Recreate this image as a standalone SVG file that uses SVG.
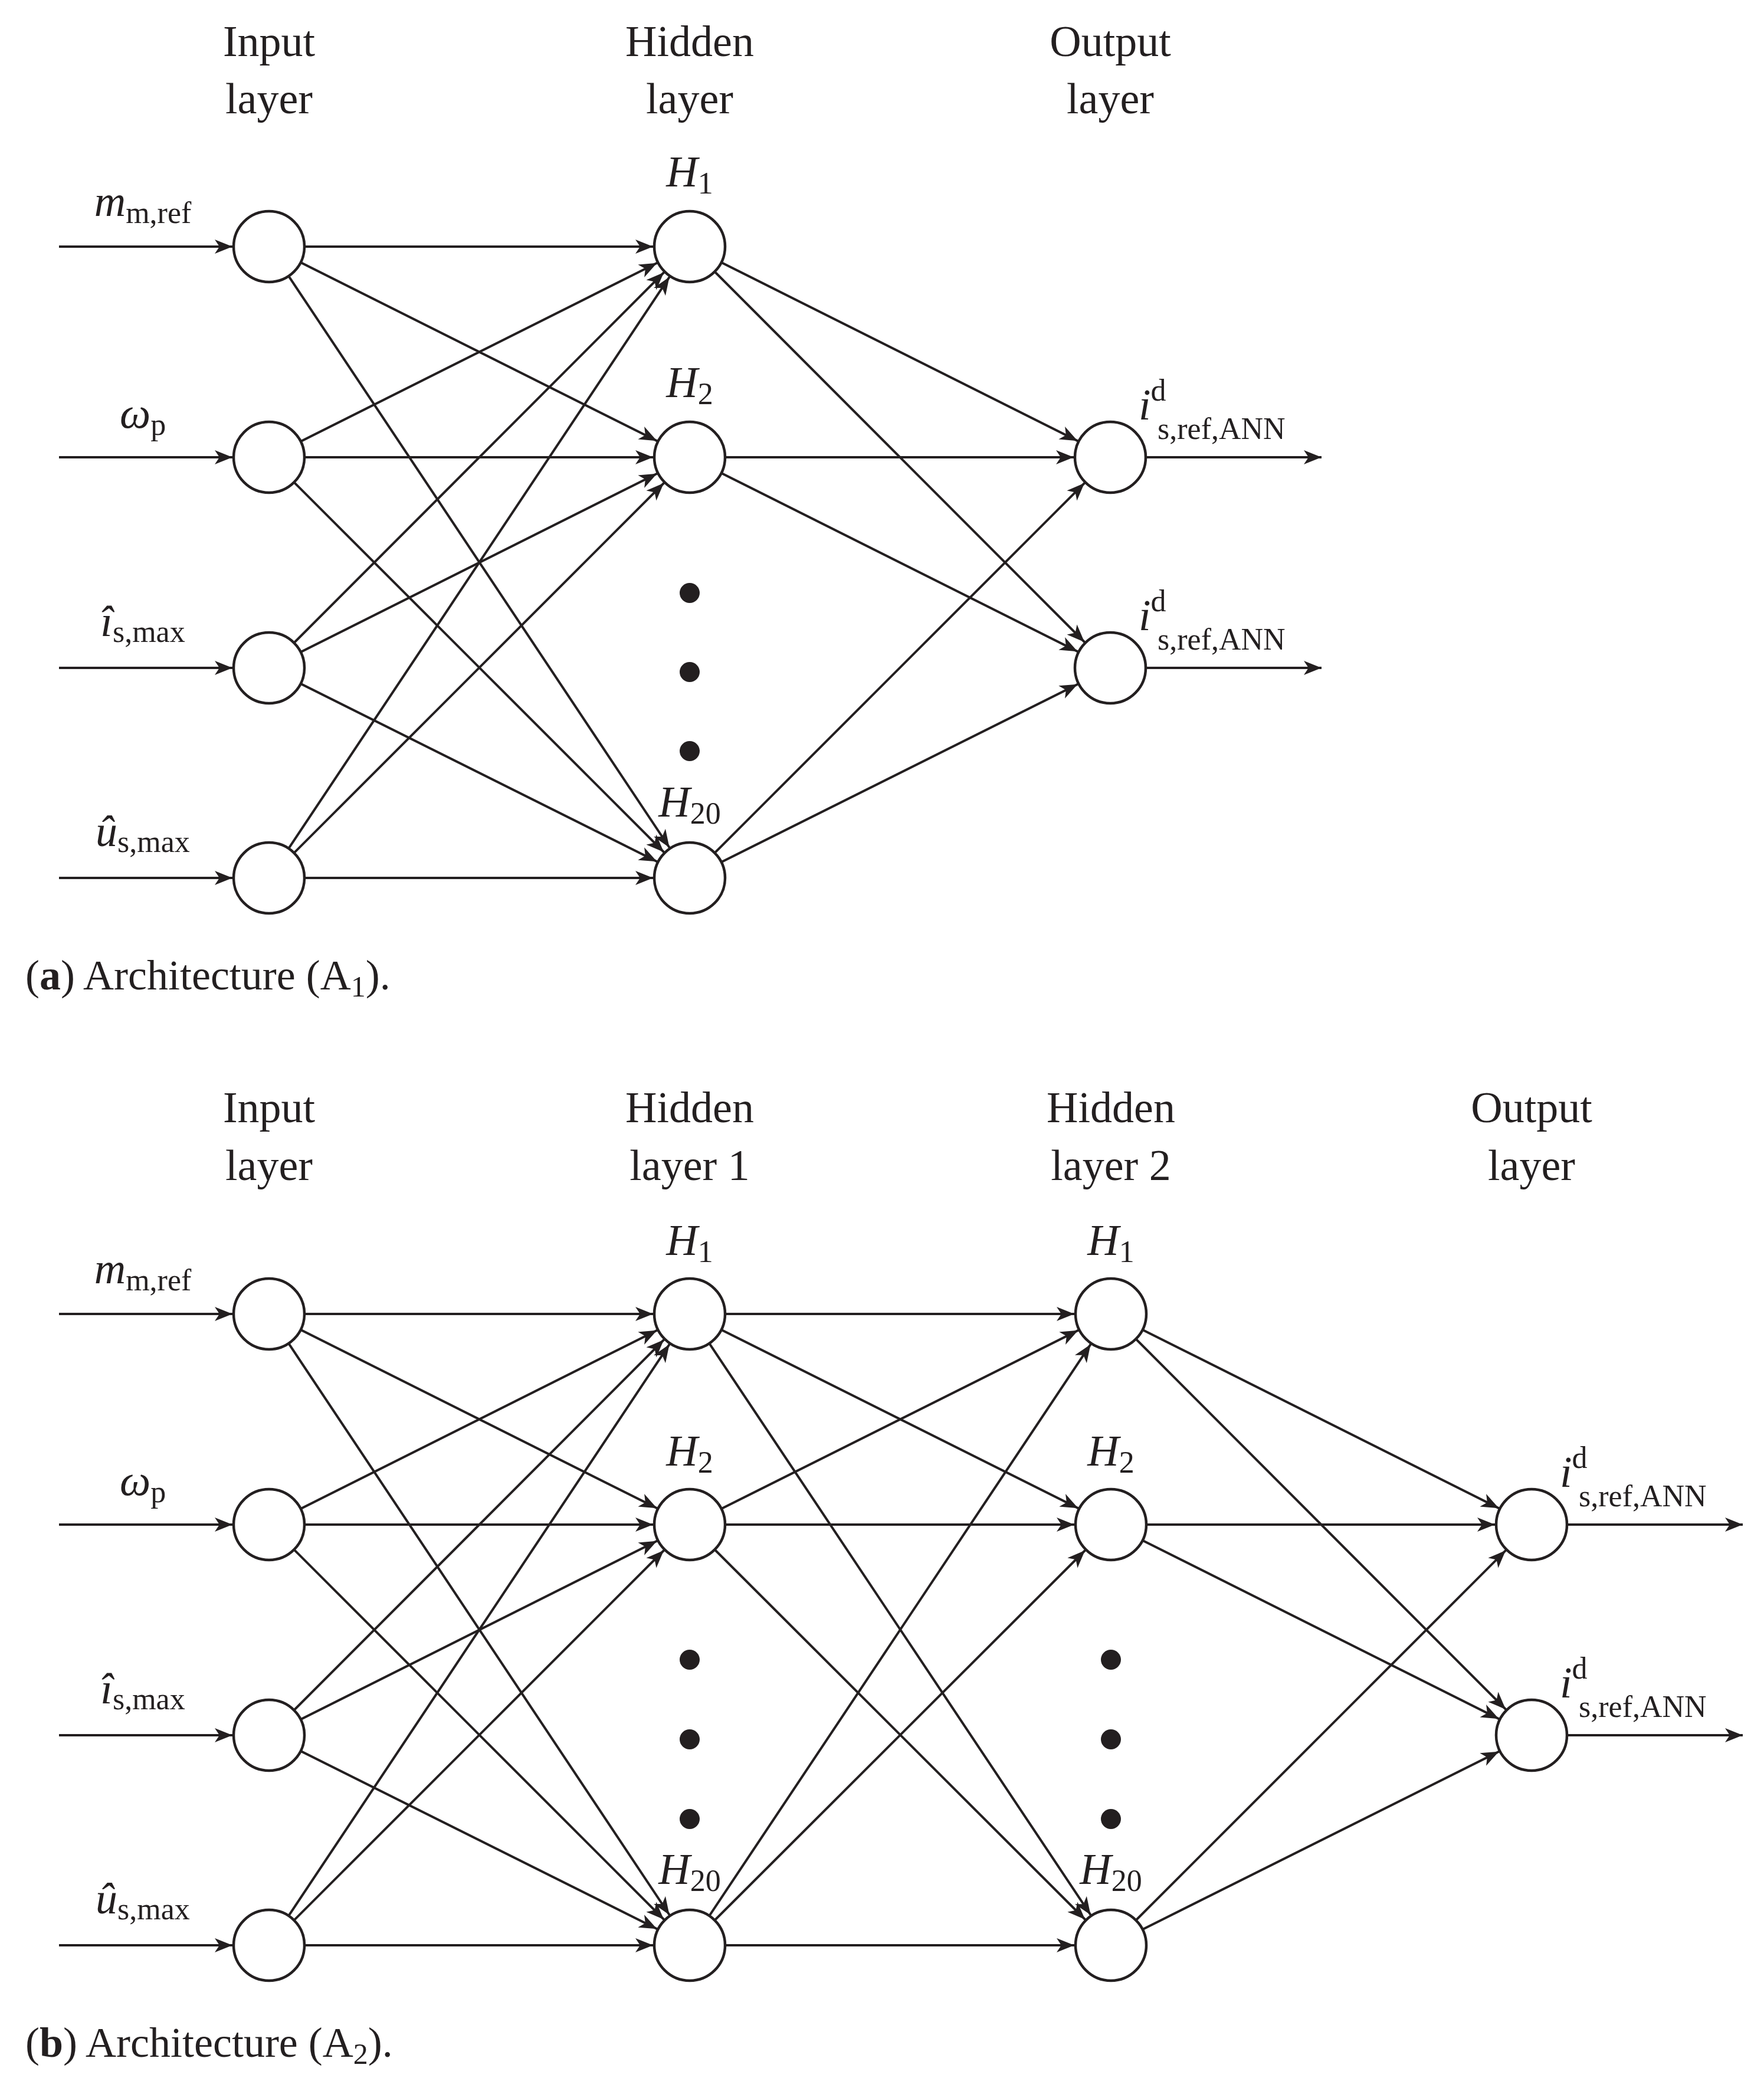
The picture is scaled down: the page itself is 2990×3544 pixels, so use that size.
<svg xmlns="http://www.w3.org/2000/svg" width="2990" height="3544" viewBox="0 0 2990 3544">
<style>
.e{stroke:#231f20;stroke-width:4;fill:none;marker-end:url(#ah)}
.f{stroke:#231f20;stroke-width:4;fill:none;marker-end:url(#ah0)}
.n{fill:#fff;stroke:#231f20;stroke-width:4.5}
.d{fill:#231f20}
text{font-family:"Liberation Serif",serif;fill:#231f20}
.t{font-size:74px;text-anchor:middle}
.m{font-size:74px;font-style:italic}
.s{font-size:52px;font-style:normal}
.c{font-size:72px}
</style>
<defs>
<marker id="ah" markerUnits="userSpaceOnUse" orient="auto" refX="62" refY="0" overflow="visible" markerWidth="40" markerHeight="40">
<path d="M0,0 L-30,-12 L-22,0 L-30,12 Z" fill="#231f20"/>
</marker>
<marker id="ah0" markerUnits="userSpaceOnUse" orient="auto" refX="0" refY="0" overflow="visible" markerWidth="40" markerHeight="40">
<path d="M0,0 L-30,-12 L-22,0 L-30,12 Z" fill="#231f20"/>
</marker>
</defs>
<rect width="2990" height="3544" fill="#fff"/>

<g id="connectors">
<!-- part a inputs -->
<line class="f" x1="100" y1="418" x2="394" y2="418"/>
<line class="f" x1="100" y1="775" x2="394" y2="775"/>
<line class="f" x1="100" y1="1132" x2="394" y2="1132"/>
<line class="f" x1="100" y1="1488" x2="394" y2="1488"/>
<!-- a: input->hidden -->
<line class="e" x1="456" y1="418" x2="1169" y2="418"/>
<line class="e" x1="456" y1="418" x2="1169" y2="775"/>
<line class="e" x1="456" y1="418" x2="1169" y2="1488"/>
<line class="e" x1="456" y1="775" x2="1169" y2="418"/>
<line class="e" x1="456" y1="775" x2="1169" y2="775"/>
<line class="e" x1="456" y1="775" x2="1169" y2="1488"/>
<line class="e" x1="456" y1="1132" x2="1169" y2="418"/>
<line class="e" x1="456" y1="1132" x2="1169" y2="775"/>
<line class="e" x1="456" y1="1132" x2="1169" y2="1488"/>
<line class="e" x1="456" y1="1488" x2="1169" y2="418"/>
<line class="e" x1="456" y1="1488" x2="1169" y2="775"/>
<line class="e" x1="456" y1="1488" x2="1169" y2="1488"/>
<!-- a: hidden->output -->
<line class="e" x1="1169" y1="418" x2="1882" y2="775"/>
<line class="e" x1="1169" y1="418" x2="1882" y2="1132"/>
<line class="e" x1="1169" y1="775" x2="1882" y2="775"/>
<line class="e" x1="1169" y1="775" x2="1882" y2="1132"/>
<line class="e" x1="1169" y1="1488" x2="1882" y2="775"/>
<line class="e" x1="1169" y1="1488" x2="1882" y2="1132"/>
<line class="f" x1="1944" y1="775" x2="2240" y2="775"/>
<line class="f" x1="1944" y1="1132" x2="2240" y2="1132"/>

<!-- part b inputs -->
<line class="f" x1="100" y1="2227" x2="394" y2="2227"/>
<line class="f" x1="100" y1="2584" x2="394" y2="2584"/>
<line class="f" x1="100" y1="2941" x2="394" y2="2941"/>
<line class="f" x1="100" y1="3297" x2="394" y2="3297"/>
<!-- b: input->H1 layer -->
<line class="e" x1="456" y1="2227" x2="1169" y2="2227"/>
<line class="e" x1="456" y1="2227" x2="1169" y2="2584"/>
<line class="e" x1="456" y1="2227" x2="1169" y2="3297"/>
<line class="e" x1="456" y1="2584" x2="1169" y2="2227"/>
<line class="e" x1="456" y1="2584" x2="1169" y2="2584"/>
<line class="e" x1="456" y1="2584" x2="1169" y2="3297"/>
<line class="e" x1="456" y1="2941" x2="1169" y2="2227"/>
<line class="e" x1="456" y1="2941" x2="1169" y2="2584"/>
<line class="e" x1="456" y1="2941" x2="1169" y2="3297"/>
<line class="e" x1="456" y1="3297" x2="1169" y2="2227"/>
<line class="e" x1="456" y1="3297" x2="1169" y2="2584"/>
<line class="e" x1="456" y1="3297" x2="1169" y2="3297"/>
<!-- b: layer1->layer2 -->
<line class="e" x1="1169" y1="2227" x2="1883" y2="2227"/>
<line class="e" x1="1169" y1="2227" x2="1883" y2="2584"/>
<line class="e" x1="1169" y1="2227" x2="1883" y2="3297"/>
<line class="e" x1="1169" y1="2584" x2="1883" y2="2227"/>
<line class="e" x1="1169" y1="2584" x2="1883" y2="2584"/>
<line class="e" x1="1169" y1="2584" x2="1883" y2="3297"/>
<line class="e" x1="1169" y1="3297" x2="1883" y2="2227"/>
<line class="e" x1="1169" y1="3297" x2="1883" y2="2584"/>
<line class="e" x1="1169" y1="3297" x2="1883" y2="3297"/>
<!-- b: layer2->output -->
<line class="e" x1="1883" y1="2227" x2="2596" y2="2584"/>
<line class="e" x1="1883" y1="2227" x2="2596" y2="2941"/>
<line class="e" x1="1883" y1="2584" x2="2596" y2="2584"/>
<line class="e" x1="1883" y1="2584" x2="2596" y2="2941"/>
<line class="e" x1="1883" y1="3297" x2="2596" y2="2584"/>
<line class="e" x1="1883" y1="3297" x2="2596" y2="2941"/>
<line class="f" x1="2658" y1="2584" x2="2954" y2="2584"/>
<line class="f" x1="2658" y1="2941" x2="2954" y2="2941"/>
</g>

<!-- Part a -->
<g id="a-titles">
<text class="t" x="456" y="95">Input</text><text class="t" x="456" y="192">layer</text>
<text class="t" x="1169" y="95">Hidden</text><text class="t" x="1169" y="192">layer</text>
<text class="t" x="1882" y="95">Output</text><text class="t" x="1882" y="192">layer</text>
</g>
<g id="a-in1"><circle class="n" cx="456" cy="418" r="60"/><text class="m" x="242" y="366" text-anchor="middle">m<tspan class="s" dy="12">m,ref</tspan></text></g>
<g id="a-in2"><circle class="n" cx="456" cy="775" r="60"/><text class="m" x="242" y="725" text-anchor="middle">ω<tspan class="s" dy="12">p</tspan></text></g>
<g id="a-in3"><circle class="n" cx="456" cy="1132" r="60"/><text class="m" x="242" y="1078" text-anchor="middle">î<tspan class="s" dy="10">s,max</tspan></text></g>
<g id="a-in4"><circle class="n" cx="456" cy="1488" r="60"/><text class="m" x="242" y="1434" text-anchor="middle">û<tspan class="s" dy="10">s,max</tspan></text></g>
<g id="a-h1"><circle class="n" cx="1169" cy="418" r="60"/><text class="m" x="1169" y="316" text-anchor="middle">H<tspan class="s" dy="12">1</tspan></text></g>
<g id="a-h2"><circle class="n" cx="1169" cy="775" r="60"/><text class="m" x="1169" y="673" text-anchor="middle">H<tspan class="s" dy="12">2</tspan></text></g>
<g id="a-dots"><circle class="d" cx="1169" cy="1005" r="17"/><circle class="d" cx="1169" cy="1139" r="17"/><circle class="d" cx="1169" cy="1273" r="17"/></g>
<g id="a-h20"><circle class="n" cx="1169" cy="1488" r="60"/><text class="m" x="1169" y="1384" text-anchor="middle">H<tspan class="s" dy="12">20</tspan></text></g>
<g id="a-o1"><circle class="n" cx="1882" cy="775" r="60"/><text class="m" x="1930" y="711">i<tspan class="s" font-style="italic" dy="-32">d</tspan><tspan class="s" x="1962" dy="65">s,ref,ANN</tspan></text></g>
<g id="a-o2"><circle class="n" cx="1882" cy="1132" r="60"/><text class="m" x="1930" y="1068">i<tspan class="s" font-style="italic" dy="-32">d</tspan><tspan class="s" x="1962" dy="65">s,ref,ANN</tspan></text></g>
<g id="a-caption"><text class="c" x="43" y="1677">(<tspan font-weight="bold">a</tspan>) Architecture (A<tspan font-size="50" dy="12">1</tspan><tspan dy="-12">).</tspan></text></g>

<!-- Part b -->
<g id="b-titles">
<text class="t" x="456" y="1902">Input</text><text class="t" x="456" y="2000">layer</text>
<text class="t" x="1169" y="1902">Hidden</text><text class="t" x="1169" y="2000">layer 1</text>
<text class="t" x="1883" y="1902">Hidden</text><text class="t" x="1883" y="2000">layer 2</text>
<text class="t" x="2596" y="1902">Output</text><text class="t" x="2596" y="2000">layer</text>
</g>
<g id="b-in1"><circle class="n" cx="456" cy="2227" r="60"/><text class="m" x="242" y="2175" text-anchor="middle">m<tspan class="s" dy="12">m,ref</tspan></text></g>
<g id="b-in2"><circle class="n" cx="456" cy="2584" r="60"/><text class="m" x="242" y="2534" text-anchor="middle">ω<tspan class="s" dy="12">p</tspan></text></g>
<g id="b-in3"><circle class="n" cx="456" cy="2941" r="60"/><text class="m" x="242" y="2887" text-anchor="middle">î<tspan class="s" dy="10">s,max</tspan></text></g>
<g id="b-in4"><circle class="n" cx="456" cy="3297" r="60"/><text class="m" x="242" y="3243" text-anchor="middle">û<tspan class="s" dy="10">s,max</tspan></text></g>
<g id="b-h1-1"><circle class="n" cx="1169" cy="2227" r="60"/><text class="m" x="1169" y="2127" text-anchor="middle">H<tspan class="s" dy="12">1</tspan></text></g>
<g id="b-h1-2"><circle class="n" cx="1169" cy="2584" r="60"/><text class="m" x="1169" y="2484" text-anchor="middle">H<tspan class="s" dy="12">2</tspan></text></g>
<g id="b-dots1"><circle class="d" cx="1169" cy="2813" r="17"/><circle class="d" cx="1169" cy="2948" r="17"/><circle class="d" cx="1169" cy="3083" r="17"/></g>
<g id="b-h1-20"><circle class="n" cx="1169" cy="3297" r="60"/><text class="m" x="1169" y="3193" text-anchor="middle">H<tspan class="s" dy="12">20</tspan></text></g>
<g id="b-h2-1"><circle class="n" cx="1883" cy="2227" r="60"/><text class="m" x="1883" y="2127" text-anchor="middle">H<tspan class="s" dy="12">1</tspan></text></g>
<g id="b-h2-2"><circle class="n" cx="1883" cy="2584" r="60"/><text class="m" x="1883" y="2484" text-anchor="middle">H<tspan class="s" dy="12">2</tspan></text></g>
<g id="b-dots2"><circle class="d" cx="1883" cy="2813" r="17"/><circle class="d" cx="1883" cy="2948" r="17"/><circle class="d" cx="1883" cy="3083" r="17"/></g>
<g id="b-h2-20"><circle class="n" cx="1883" cy="3297" r="60"/><text class="m" x="1883" y="3193" text-anchor="middle">H<tspan class="s" dy="12">20</tspan></text></g>
<g id="b-o1"><circle class="n" cx="2596" cy="2584" r="60"/><text class="m" x="2644" y="2520">i<tspan class="s" font-style="italic" dy="-32">d</tspan><tspan class="s" x="2676" dy="65">s,ref,ANN</tspan></text></g>
<g id="b-o2"><circle class="n" cx="2596" cy="2941" r="60"/><text class="m" x="2644" y="2877">i<tspan class="s" font-style="italic" dy="-32">d</tspan><tspan class="s" x="2676" dy="65">s,ref,ANN</tspan></text></g>
<g id="b-caption"><text class="c" x="43" y="3486">(<tspan font-weight="bold">b</tspan>) Architecture (A<tspan font-size="50" dy="12">2</tspan><tspan dy="-12">).</tspan></text></g>
</svg>
